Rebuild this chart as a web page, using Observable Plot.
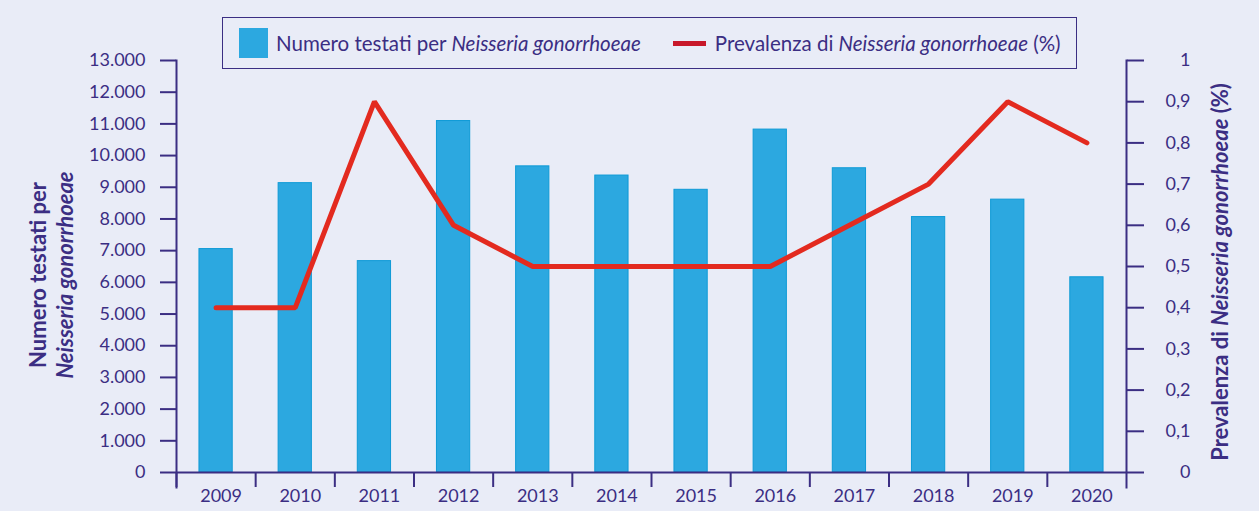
<!DOCTYPE html>
<html>
<head>
<meta charset="utf-8">
<script src="https://cdn.jsdelivr.net/npm/d3@7"></script>
<script src="https://cdn.jsdelivr.net/npm/@observablehq/plot@0.6"></script>
<style>
  html, body { margin: 0; padding: 0; background: #e9ecf7; }
  #wrap { position: relative; width: 1259px; height: 511px; background: #e9ecf7; font-family: Lato, "Open Sans", sans-serif; color: #3b2e83; }
  #legend { position: absolute; left: 222px; top: 17px; width: 853px; height: 50px; border: 1.5px solid #3b2e83; display: flex; align-items: center; font-size: 20.5px; white-space: nowrap; }
  #legend .sw { display: inline-block; width: 29px; height: 30px; background: #2ca8e0; margin-left: 16px; margin-right: 8px; }
  #legend .ln { display: inline-block; width: 33px; height: 5px; background: #c8182a; margin-left: 32px; margin-right: 9px; }
  #legend i { font-style: italic; }
</style>
</head>
<body>
<div id="wrap"></div>
<script>
const years = ["2009","2010","2011","2012","2013","2014","2015","2016","2017","2018","2019","2020"];
const tested = [7050, 9130, 6670, 11090, 9660, 9370, 8920, 10820, 9600, 8060, 8610, 6160];
const prevalence = [0.4, 0.4, 0.9, 0.6, 0.5, 0.5, 0.5, 0.5, 0.6, 0.7, 0.9, 0.8];
const leftTicks = [0,1000,2000,3000,4000,5000,6000,7000,8000,9000,10000,11000,12000,13000];
const rightTicks = [0,0.1,0.2,0.3,0.4,0.5,0.6,0.7,0.8,0.9,1];
const leftMax = 13000;
const rightMax = 1;

const data = years.map((y, i) => ({year: y, tested: tested[i], prev: prevalence[i]}));
const ink = "#3b2e83";
const W = 1259, H = 511, mL = 176, mR = 133;
const step = (W - mL - mR) / years.length;

const fmtLeft = d => d3.format(",")(d).replace(/,/g, ".");
const fmtRight = d => String(+(d / leftMax * rightMax).toFixed(1)).replace(".", ",");

const chart = Plot.plot({
  width: W, height: H,
  marginLeft: mL, marginRight: mR, marginTop: 60, marginBottom: 24,
  style: {background: "transparent", fontFamily: "Lato, 'Open Sans', sans-serif", color: ink},
  x: {type: "band", domain: years, paddingInner: 0.58, paddingOuter: 0.29, round: false, axis: null},
  y: {domain: [0, leftMax], insetBottom: 15, axis: null},
  marks: [
    Plot.barY(data, {x: "year", y: "tested", fill: "#2ca8e0", stroke: "#0e9ad6", strokeWidth: 1}),
    Plot.line(data, {x: "year", y: d => d.prev / rightMax * leftMax, stroke: "#e32a1f", strokeWidth: 5, strokeLinejoin: "miter", strokeLinecap: "round"}),
    Plot.ruleY([0], {stroke: ink, strokeWidth: 2}),
    Plot.frame({anchor: "left", stroke: ink, strokeWidth: 2}),
    Plot.frame({anchor: "right", stroke: ink, strokeWidth: 2}),
    Plot.axisY({anchor: "left", ticks: leftTicks, tickFormat: fmtLeft, tickSize: 16, tickPadding: 15, fontSize: 18, stroke: ink, strokeWidth: 2, fill: ink, label: null}),
    Plot.axisY({anchor: "right", ticks: rightTicks.map(v => v / rightMax * leftMax), tickFormat: fmtRight, tickSize: 17, tickPadding: 47, textAnchor: "end", fontSize: 18, stroke: ink, strokeWidth: 2, fill: ink, label: null}),
    Plot.axisX({ticks: years, tickSize: -15, tickFormat: () => "", dx: -step / 2, stroke: ink, strokeWidth: 2, label: null}),
    Plot.axisX({ticks: years, tickSize: 0, tickPadding: 2, dx: 5, fontSize: 18, fill: ink, label: null}),
    Plot.text(["Numero testati per\nNeisseria gonorrhoeae"], {frameAnchor: "left", textAnchor: "middle", rotate: -90, dx: -126, dy: 1, fontSize: 22, fontWeight: "bold", lineHeight: 1.25, fill: ink, className: "ltitle"}),
    Plot.text(["Prevalenza di Neisseria gonorrhoeae (%)"], {frameAnchor: "right", textAnchor: "middle", rotate: -90, dx: 94, dy: -2, fontSize: 22, fontWeight: "bold", fill: ink, className: "rtitle"})
  ]
});

const wrap = document.getElementById("wrap");
wrap.appendChild(chart);

// italic species names in axis titles
const svg = d3.select(chart);
svg.selectAll(".ltitle text tspan").filter((d, i) => i === 1).attr("font-style", "italic");
svg.selectAll(".rtitle text").each(function() {
  const t = d3.select(this);
  const s = t.text();
  const sp = "Neisseria gonorrhoeae";
  const k = s.indexOf(sp);
  t.text(null);
  t.append("tspan").text(s.slice(0, k));
  t.append("tspan").attr("font-style", "italic").text(sp);
  t.append("tspan").text(s.slice(k + sp.length));
});

const legend = document.createElement("div");
legend.id = "legend";
legend.innerHTML = '<span class="sw"></span><span>Numero testati per <i>Neisseria gonorrhoeae</i></span>' +
  '<span class="ln"></span><span>Prevalenza di <i>Neisseria gonorrhoeae</i> (%)</span>';
wrap.appendChild(legend);
</script>
</body>
</html>
